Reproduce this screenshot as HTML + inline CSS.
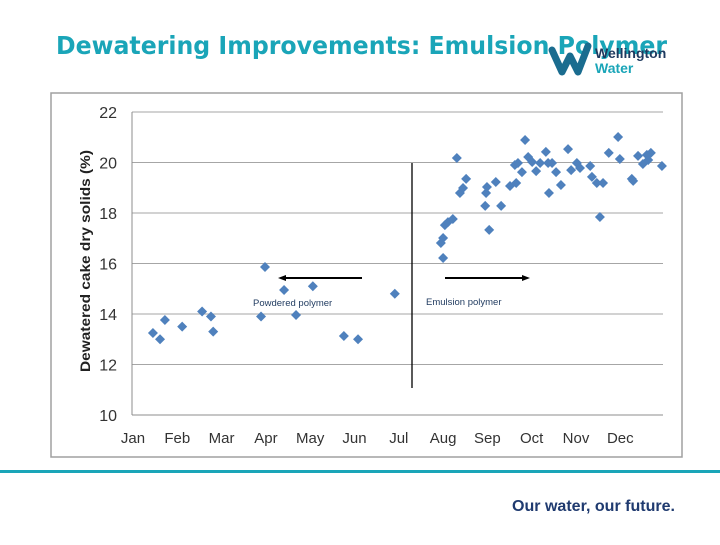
<!DOCTYPE html>
<html><head><meta charset="utf-8"><style>
body{margin:0;width:720px;height:540px;background:#fff;overflow:hidden;font-family:"Liberation Sans",sans-serif}
</style></head><body>
<svg width="720" height="540" xmlns="http://www.w3.org/2000/svg">
<text x="56" y="54" font-size="25" font-weight="bold" fill="#1aa5b8" textLength="611" lengthAdjust="spacingAndGlyphs" font-family="DejaVu Sans, sans-serif">Dewatering Improvements: Emulsion Polymer</text>
<g>
<path d="M552 50 L562 72 L570 56 L578 72 L588 46" fill="none" stroke="#1a6c8f" stroke-width="7" stroke-linecap="round" stroke-linejoin="round"/>
<text x="595" y="58" font-size="14" font-weight="bold" fill="#1f3a5f">Wellington</text>
<text x="595" y="73" font-size="14" font-weight="bold" fill="#1aa5b8">Water</text>
</g>
<rect x="51" y="93" width="631" height="364" fill="none" stroke="#a0a0a0" stroke-width="1.5"/>
<g id="grid"></g><g id="axes"></g><g id="pts"></g>
<line x1="412" y1="163" x2="412" y2="388" stroke="#000" stroke-width="1.3"/>
<g><line x1="362" y1="278" x2="284" y2="278" stroke="#000" stroke-width="2"/><path d="M278 278 L286 275 L286 281Z" fill="#000"/></g>
<g><line x1="445" y1="278" x2="524" y2="278" stroke="#000" stroke-width="2"/><path d="M530 278 L522 275 L522 281Z" fill="#000"/></g>
<text x="253" y="306" font-size="9.5" fill="#1f3a5f">Powdered polymer</text>
<text x="426" y="305" font-size="9.5" fill="#1f3a5f">Emulsion polymer</text>
<text transform="translate(90,261) rotate(-90)" text-anchor="middle" font-size="14" font-weight="bold" fill="#222" textLength="222" lengthAdjust="spacingAndGlyphs">Dewatered cake dry solids (%)</text>
<rect x="0" y="470" width="720" height="3" fill="#1aa5b8"/>
<text x="512" y="511" font-size="16" font-weight="bold" fill="#1f3a6f" textLength="163" lengthAdjust="spacingAndGlyphs">Our water, our future.</text>
</svg>
<script>
const months=["Jan","Feb","Mar","Apr","May","Jun","Jul","Aug","Sep","Oct","Nov","Dec"];
const yTicks=[10,12,14,16,18,20,22];
const pointMonth=[0.45,0.61,0.72,1.11,1.56,1.76,1.81,2.89,2.98,3.41,3.68,4.06,4.76,5.08,5.91,
7.00,6.95,7.00,7.04,7.11,7.22,7.31,7.38,7.45,7.52,7.95,7.97,7.99,8.04,8.19,8.31,8.51,8.65,8.62,8.69,8.78,8.85,8.92,9.01,9.10,9.19,9.32,9.37,9.39,9.46,9.55,9.66,9.82,9.89,10.02,10.09,10.32,10.36,10.47,10.54,10.61,10.74,10.95,10.99,11.26,11.29,11.40,11.51,11.63,11.69,11.60,11.94];
const pointSolids=[13.25,13.0,13.76,13.5,14.1,13.9,13.3,13.9,15.86,14.95,13.96,15.1,13.13,13.0,14.8,
16.22,16.81,17.01,17.52,17.64,17.76,20.18,18.79,18.99,19.35,18.28,18.79,19.03,17.33,19.23,18.28,19.07,19.19,19.90,19.98,19.62,20.89,20.22,20.02,19.66,19.98,20.42,19.98,18.79,19.98,19.62,19.11,20.53,19.70,19.98,19.78,19.86,19.43,19.19,17.84,19.19,20.38,21.01,20.14,19.35,19.27,20.26,19.94,20.10,20.38,20.30,19.86];
const NS="http://www.w3.org/2000/svg";
const X0=133,PX=44.3,Y0=415,PY=25.25,XL=132,XR=663;
const xs=m=>X0+m*PX, ys=v=>Y0-(v-10)*PY;
function mk(t,a,p){const e=document.createElementNS(NS,t);for(const k in a)e.setAttribute(k,a[k]);p.appendChild(e);return e;}
const grid=document.getElementById('grid'),axes=document.getElementById('axes'),pts=document.getElementById('pts');
yTicks.forEach(v=>{
 if(v>10){const l=mk('line',{x1:XL,x2:XR,y1:ys(v),y2:ys(v),stroke:'#a6a6a6','stroke-width':1},grid);
 
 }
 const t=mk('text',{x:117,y:ys(v)+6,'text-anchor':'end','font-size':16,fill:'#333'},axes);t.textContent=v;
 
 
});
const ax=mk('line',{x1:XL,x2:XL,y1:ys(22),y2:Y0,stroke:'#8c8c8c','stroke-width':1},axes);


const bx=mk('line',{x1:XL,x2:XR,y1:Y0,y2:Y0,stroke:'#8c8c8c','stroke-width':1},axes);


months.forEach((m,i)=>{const t=mk('text',{x:xs(i),y:443,'text-anchor':'middle','font-size':15,fill:'#333'},axes);t.textContent=m;
 
 });
pointMonth.forEach((m,i)=>{const x=xs(m),y=ys(pointSolids[i]);
 const p=mk('path',{d:`M${x} ${y-5}L${x+5} ${y}L${x} ${y+5}L${x-5} ${y}Z`,fill:'#4f81bd'},pts);
 
 });
</script>
</body></html>
